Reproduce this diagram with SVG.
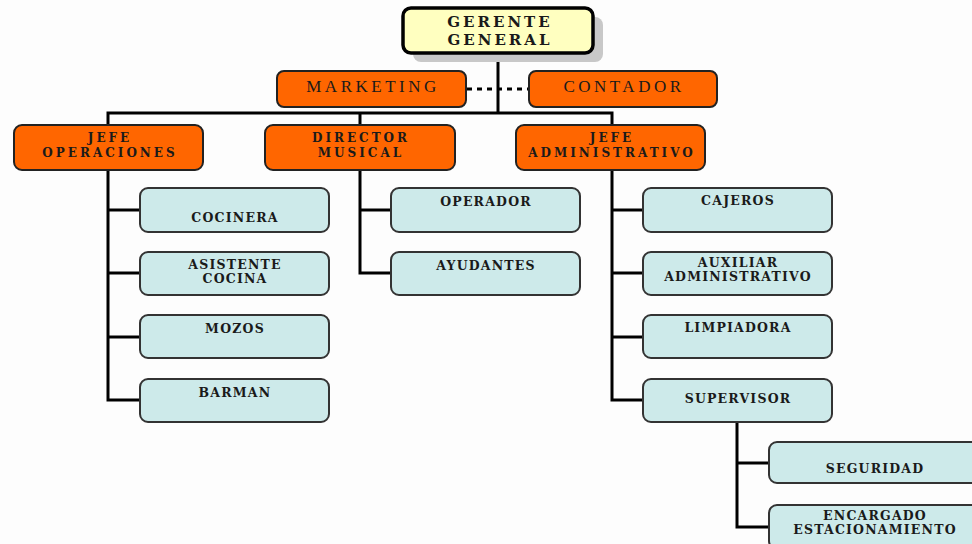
<svg xmlns="http://www.w3.org/2000/svg" width="972" height="544" viewBox="0 0 972 544">
<style>
.bg{fill:#fdfdfd}
.gg{fill:#ffffc0;stroke:#000;stroke-width:3.5}
.sh{fill:#c8c8c8}
.or{fill:#ff6600;stroke:#222;stroke-width:2}
.bl{fill:#cdeaea;stroke:#333;stroke-width:2}
.ln{stroke:#000;stroke-width:3;fill:none}
.dash{stroke:#000;stroke-width:3;stroke-dasharray:5 5;fill:none}
text{font-family:"DejaVu Serif","Liberation Serif",serif;fill:#1a1a1a;text-anchor:middle}
.t1{font-size:15px;font-weight:bold;letter-spacing:3px}
.t2{font-family:"Liberation Serif","Times New Roman",serif;font-size:17px;letter-spacing:3.5px}
.t3{font-size:12px;font-weight:bold;letter-spacing:3px}
.t4{font-size:12.5px;font-weight:bold;letter-spacing:1.2px}
</style>
<rect class="bg" x="0" y="0" width="972" height="544"/>
<g id="connectors">
<line class="ln" x1="498" y1="53" x2="498" y2="114"/>
<line class="dash" x1="467" y1="89" x2="528" y2="89"/>
<polyline class="ln" points="108,125 108,113 612,113 612,125"/>
<line class="ln" x1="360" y1="113" x2="360" y2="125"/>
<polyline class="ln" points="108,170 108,400 140,400"/>
<line class="ln" x1="108" y1="210" x2="140" y2="210"/>
<line class="ln" x1="108" y1="273" x2="140" y2="273"/>
<line class="ln" x1="108" y1="337" x2="140" y2="337"/>
<polyline class="ln" points="360,170 360,273 391,273"/>
<line class="ln" x1="360" y1="210" x2="391" y2="210"/>
<polyline class="ln" points="612,170 612,400 643,400"/>
<line class="ln" x1="612" y1="210" x2="643" y2="210"/>
<line class="ln" x1="612" y1="273" x2="643" y2="273"/>
<line class="ln" x1="612" y1="337" x2="643" y2="337"/>
<polyline class="ln" points="737,422 737,527 769,527"/>
<line class="ln" x1="737" y1="463" x2="769" y2="463"/>
</g>
<g id="gerente">
<rect class="sh" x="413" y="17" width="190" height="45" rx="8"/>
<rect class="gg" x="403" y="8" width="190" height="45" rx="8"/>
<text class="t1" x="500" y="27">GERENTE</text>
<text class="t1" x="500" y="45">GENERAL</text>
</g>
<g id="marketing">
<rect class="or" x="277" y="71" width="189" height="36" rx="7"/>
<text class="t2" x="373" y="92">MARKETING</text>
</g>
<g id="contador">
<rect class="or" x="529" y="71" width="188" height="36" rx="7"/>
<text class="t2" x="624" y="92">CONTADOR</text>
</g>
<g id="jefe-operaciones">
<rect class="or" x="14" y="125" width="189" height="45" rx="8"/>
<text class="t3" x="110" y="142">JEFE</text>
<text class="t3" x="110" y="157">OPERACIONES</text>
</g>
<g id="director-musical">
<rect class="or" x="265" y="125" width="190" height="45" rx="8"/>
<text class="t3" x="361" y="142">DIRECTOR</text>
<text class="t3" x="361" y="157">MUSICAL</text>
</g>
<g id="jefe-administrativo">
<rect class="or" x="516" y="125" width="189" height="45" rx="8"/>
<text class="t3" x="612" y="142">JEFE</text>
<text class="t3" x="612" y="157">ADMINISTRATIVO</text>
</g>
<g id="cocinera">
<rect class="bl" x="140" y="188" width="189" height="44" rx="8"/>
<text class="t4" x="235" y="222">COCINERA</text>
</g>
<g id="asistente-cocina">
<rect class="bl" x="140" y="252" width="189" height="43" rx="8"/>
<text class="t4" x="235" y="269">ASISTENTE</text>
<text class="t4" x="235" y="283">COCINA</text>
</g>
<g id="mozos">
<rect class="bl" x="140" y="315" width="189" height="43" rx="8"/>
<text class="t4" x="235" y="333">MOZOS</text>
</g>
<g id="barman">
<rect class="bl" x="140" y="379" width="189" height="43" rx="8"/>
<text class="t4" x="235" y="397">BARMAN</text>
</g>
<g id="operador">
<rect class="bl" x="391" y="188" width="189" height="44" rx="8"/>
<text class="t4" x="486" y="206">OPERADOR</text>
</g>
<g id="ayudantes">
<rect class="bl" x="391" y="252" width="189" height="43" rx="8"/>
<text class="t4" x="486" y="270">AYUDANTES</text>
</g>
<g id="cajeros">
<rect class="bl" x="643" y="188" width="189" height="44" rx="8"/>
<text class="t4" x="738" y="205">CAJEROS</text>
</g>
<g id="auxiliar-administrativo">
<rect class="bl" x="643" y="252" width="189" height="43" rx="8"/>
<text class="t4" x="738" y="267">AUXILIAR</text>
<text class="t4" x="738" y="281">ADMINISTRATIVO</text>
</g>
<g id="limpiadora">
<rect class="bl" x="643" y="315" width="189" height="43" rx="8"/>
<text class="t4" x="738" y="332">LIMPIADORA</text>
</g>
<g id="supervisor">
<rect class="bl" x="643" y="379" width="189" height="43" rx="8"/>
<text class="t4" x="738" y="403">SUPERVISOR</text>
</g>
<g id="seguridad">
<rect class="bl" x="769" y="442" width="212" height="41" rx="8"/>
<text class="t4" x="875" y="473">SEGURIDAD</text>
</g>
<g id="encargado-estacionamiento">
<rect class="bl" x="769" y="505" width="212" height="44" rx="8"/>
<text class="t4" x="875" y="520">ENCARGADO</text>
<text class="t4" x="875" y="534">ESTACIONAMIENTO</text>
</g>
</svg>
